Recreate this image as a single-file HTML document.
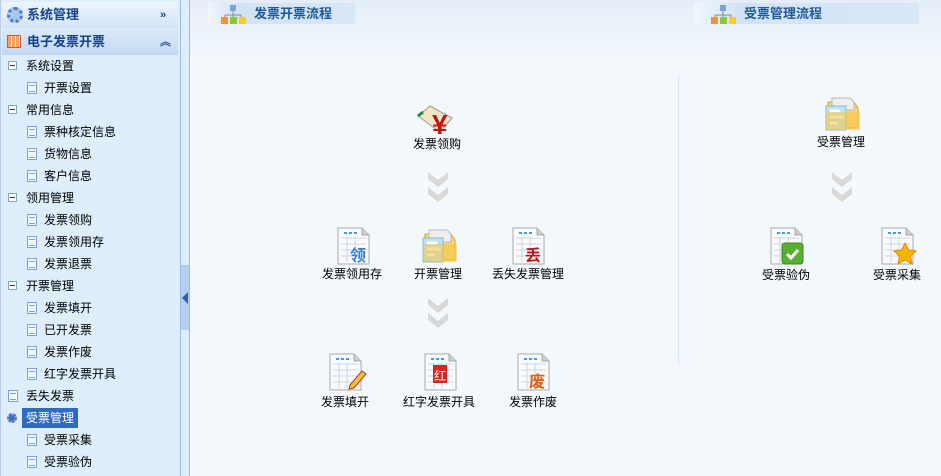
<!DOCTYPE html>
<html><head><meta charset="utf-8">
<style>
*{margin:0;padding:0;box-sizing:border-box}
body{width:941px;height:476px;overflow:hidden;position:relative;background:#f3f8fd;font-family:"Liberation Sans","Noto Sans CJK SC","WenQuanYi Zen Hei",sans-serif;font-size:12px;color:#000}
.abs{position:absolute}
#side{left:0;top:0;width:181px;height:476px;background:#deeefc;border-right:1px solid #99bbe8;border-left:1px solid #b6cfea}
.hdr{position:absolute;left:2px;width:176px;height:26px;font-weight:bold;font-size:13px;color:#15428b;line-height:26px;background:linear-gradient(#eef5fd,#d3e4f7)}
.it{position:absolute;height:22px;line-height:22px;font-size:12px;white-space:nowrap}
.pm{position:absolute;width:9px;height:9px;border:1px solid #8aa;background:#fff;left:8px;top:6px}
.pm:after{content:"";position:absolute;left:1px;top:3px;width:5px;height:1px;background:#335}
.lf{position:absolute;width:10px;height:12px;border:1px solid #7a9fd0;background:#f4f8ff;top:5px}
.lf:after{content:"";position:absolute;left:1px;top:2px;width:6px;height:5px;border-top:1px solid #7a9fd0;border-bottom:1px solid #7a9fd0}
#split{left:181px;top:0;width:9px;height:476px;background:#dfeefc;border-right:1px solid #99bbe8}
.lbl{position:absolute;text-align:center;width:120px;font-size:12px}
.title{position:absolute;top:3px;height:21px;background:linear-gradient(90deg,#f0f6fc,#d2e3f5 20%,#d8e7f6);font-weight:bold;color:#1f5a96;font-size:13px;line-height:21px}
</style></head><body>
<div class="abs" style="left:190px;top:0;width:751px;height:60px;background:linear-gradient(#e5eef8,#f3f8fd)"></div>
<div id="side">
 <div class="hdr" style="top:2px"><span style="position:absolute;left:5px;top:5px;width:16px;height:16px;border-radius:50%;border:3px dotted #4a7ec0;background:#a9c8ea"></span><span style="position:absolute;left:25px">系统管理</span><span style="position:absolute;left:158px;font-size:11px">»</span></div>
 <div class="hdr" style="top:29px;background:linear-gradient(#dbe9f8,#c3d9f2)"><span style="position:absolute;left:5px;top:6px;width:14px;height:13px;background:repeating-linear-gradient(90deg,#f4a15c 0 3px,#fff 3px 4px);border:1px solid #c55"></span><span style="position:absolute;left:25px">电子发票开票</span><span style="position:absolute;left:158px;font-size:11px">︽</span></div>
 <div class="it" style="top:55px;left:0"><i class="pm"></i><span style="position:absolute;left:26px">系统设置</span></div>
 <div class="it" style="top:77px;left:0"><i class="lf" style="left:27px"></i><span style="position:absolute;left:44px">开票设置</span></div>
 <div class="it" style="top:99px;left:0"><i class="pm"></i><span style="position:absolute;left:26px">常用信息</span></div>
 <div class="it" style="top:121px;left:0"><i class="lf" style="left:27px"></i><span style="position:absolute;left:44px">票种核定信息</span></div>
 <div class="it" style="top:143px;left:0"><i class="lf" style="left:27px"></i><span style="position:absolute;left:44px">货物信息</span></div>
 <div class="it" style="top:165px;left:0"><i class="lf" style="left:27px"></i><span style="position:absolute;left:44px">客户信息</span></div>
 <div class="it" style="top:187px;left:0"><i class="pm"></i><span style="position:absolute;left:26px">领用管理</span></div>
 <div class="it" style="top:209px;left:0"><i class="lf" style="left:27px"></i><span style="position:absolute;left:44px">发票领购</span></div>
 <div class="it" style="top:231px;left:0"><i class="lf" style="left:27px"></i><span style="position:absolute;left:44px">发票领用存</span></div>
 <div class="it" style="top:253px;left:0"><i class="lf" style="left:27px"></i><span style="position:absolute;left:44px">发票退票</span></div>
 <div class="it" style="top:275px;left:0"><i class="pm"></i><span style="position:absolute;left:26px">开票管理</span></div>
 <div class="it" style="top:297px;left:0"><i class="lf" style="left:27px"></i><span style="position:absolute;left:44px">发票填开</span></div>
 <div class="it" style="top:319px;left:0"><i class="lf" style="left:27px"></i><span style="position:absolute;left:44px">已开发票</span></div>
 <div class="it" style="top:341px;left:0"><i class="lf" style="left:27px"></i><span style="position:absolute;left:44px">发票作废</span></div>
 <div class="it" style="top:363px;left:0"><i class="lf" style="left:27px"></i><span style="position:absolute;left:44px">红字发票开具</span></div>
 <div class="it" style="top:385px;left:0"><i class="lf" style="left:8px"></i><span style="position:absolute;left:26px">丢失发票</span></div>
 <div class="it" style="top:407px;left:0"><i style="position:absolute;left:7px;top:6px;width:10px;height:10px;border-radius:50%;background:#3a6fc0;border:2px dotted #aac"></i><span style="position:absolute;left:22px;top:1px;height:20px;line-height:20px;padding:0 4px;background:#316ac5;color:#fff">受票管理</span></div>
 <div class="it" style="top:429px;left:0"><i class="lf" style="left:27px"></i><span style="position:absolute;left:44px">受票采集</span></div>
 <div class="it" style="top:451px;left:0"><i class="lf" style="left:27px"></i><span style="position:absolute;left:44px">受票验伪</span></div>
</div>
<div id="split" class="abs"></div>
<div class="abs" style="left:181px;top:265px;width:8px;height:65px;background:#b3d0ef"></div>
<div class="abs" style="left:182px;top:292px;width:0;height:0;border-top:6px solid transparent;border-bottom:6px solid transparent;border-right:6px solid #2d5f9e"></div>

<div class="title" style="left:208px;width:147px"><svg class="abs" style="left:12px;top:1px" width="26" height="20"><rect x="10" y="1" width="6" height="6" fill="#7aa3d8"/><path d="M13 7v4M5 11h16M5 11v3M13 11v3M21 11v3" stroke="#888" fill="none"/><rect x="1" y="13" width="7" height="7" fill="#f0923a"/><rect x="10" y="13" width="7" height="7" fill="#8cc43a"/><rect x="19" y="13" width="7" height="7" fill="#f4cf2a"/></svg><span class="abs" style="left:46px">发票开票流程</span></div>
<div class="title" style="left:694px;width:225px"><svg class="abs" style="left:16px;top:1px" width="26" height="20"><rect x="10" y="1" width="6" height="6" fill="#7aa3d8"/><path d="M13 7v4M5 11h16M5 11v3M13 11v3M21 11v3" stroke="#888" fill="none"/><rect x="1" y="13" width="7" height="7" fill="#f0923a"/><rect x="10" y="13" width="7" height="7" fill="#8cc43a"/><rect x="19" y="13" width="7" height="7" fill="#f4cf2a"/></svg><span class="abs" style="left:50px">受票管理流程</span></div>

<div class="abs" style="left:678px;top:75px;width:1px;height:290px;background:#dde8f4"></div>

<svg class="abs" style="left:0;top:0" width="941" height="476">
<defs>
 <g id="chev"><path d="M0 0l10 8 10-8v7l-10 8-10-8z" fill="#d8d8d8"/><path d="M0 15l10 8 10-8v7l-10 8-10-8z" fill="#d8d8d8"/></g>
 <g id="doc"><path d="M0 0h24l7 7v29h-31z" fill="#fafafa" stroke="#aaa"/><path d="M24 0v7h7" fill="#ccc" stroke="#aaa"/><rect x="6" y="4" width="3" height="2" fill="#3aa0e0"/><rect x="11" y="4" width="3" height="2" fill="#3aa0e0"/><rect x="16" y="4" width="3" height="2" fill="#3aa0e0"/><path d="M3 10h25M3 16h25M3 22h25M3 28h25M9 9v25M17 9v25" stroke="#c8d6e8"/></g>
 <g id="fold"><path d="M4 6h26l4 6v20h-32z" fill="#f5d77a" stroke="#d9a520"/><path d="M8 2h18l4 4v8h-22z" fill="#eee" stroke="#bbb"/><rect x="2" y="10" width="20" height="24" fill="#bfe3f5" stroke="#8bc"/><path d="M6 15h10M6 21h14M6 27h8" stroke="#fff" stroke-width="3"/><path d="M2 16h34v18h-34z" fill="#f5c542" opacity=".55"/></g>
</defs>
<use href="#chev" x="428" y="172"/><use href="#chev" x="428" y="298"/><use href="#chev" x="832" y="172"/>
<g transform="translate(418,104)"><path d="M0 12l12-10 22 12-12 14z" fill="#f2e7c3" stroke="#999"/><path d="M0 12l5-4" stroke="#2a8a3a" stroke-width="3"/><text x="14" y="30" font-size="28" font-weight="bold" fill="#c0161a" font-family="Liberation Sans">¥</text></g>
<use href="#doc" x="338" y="228"/><text x="350" y="261" font-size="16" font-weight="bold" fill="#3a7fd6" font-family="Noto Sans CJK SC">领</text>
<use href="#fold" x="421" y="228"/>
<use href="#doc" x="513" y="228"/><text x="525" y="261" font-size="16" font-weight="bold" fill="#c0161a" font-family="Noto Sans CJK SC">丢</text>
<use href="#doc" x="330" y="354"/><path d="M350 385l12-14 4 3-12 14-5 1z" fill="#f4c430" stroke="#a33"/>
<use href="#doc" x="425" y="354"/><rect x="433" y="365" width="14" height="18" fill="#e02020"/><text x="434" y="380" font-size="12" fill="#fff" font-family="Noto Sans CJK SC">红</text>
<use href="#doc" x="518" y="354"/><text x="529" y="387" font-size="16" font-weight="bold" fill="#e06010" font-family="Noto Sans CJK SC">废</text>
<use href="#fold" x="824" y="96"/>
<use href="#doc" x="771" y="228"/><rect x="782" y="243" width="21" height="21" rx="3" fill="#58b030" stroke="#3a8a20"/><path d="M787 254l4 4 7-8" stroke="#fff" stroke-width="3" fill="none"/>
<use href="#doc" x="882" y="228"/><path d="M905 243l3.5 7 7.5 1-5.5 5 1.5 8-7-4-7 4 1.5-8-5.5-5 7.5-1z" fill="#f7b500" stroke="#e08a00"/>
</svg>

<div class="lbl" style="left:377px;top:135px">发票领购</div>
<div class="lbl" style="left:292px;top:265px">发票领用存</div>
<div class="lbl" style="left:378px;top:265px">开票管理</div>
<div class="lbl" style="left:468px;top:265px">丢失发票管理</div>
<div class="lbl" style="left:285px;top:393px">发票填开</div>
<div class="lbl" style="left:379px;top:393px">红字发票开具</div>
<div class="lbl" style="left:473px;top:393px">发票作废</div>
<div class="lbl" style="left:781px;top:133px">受票管理</div>
<div class="lbl" style="left:726px;top:266px">受票验伪</div>
<div class="lbl" style="left:837px;top:266px">受票采集</div>
</body></html>
